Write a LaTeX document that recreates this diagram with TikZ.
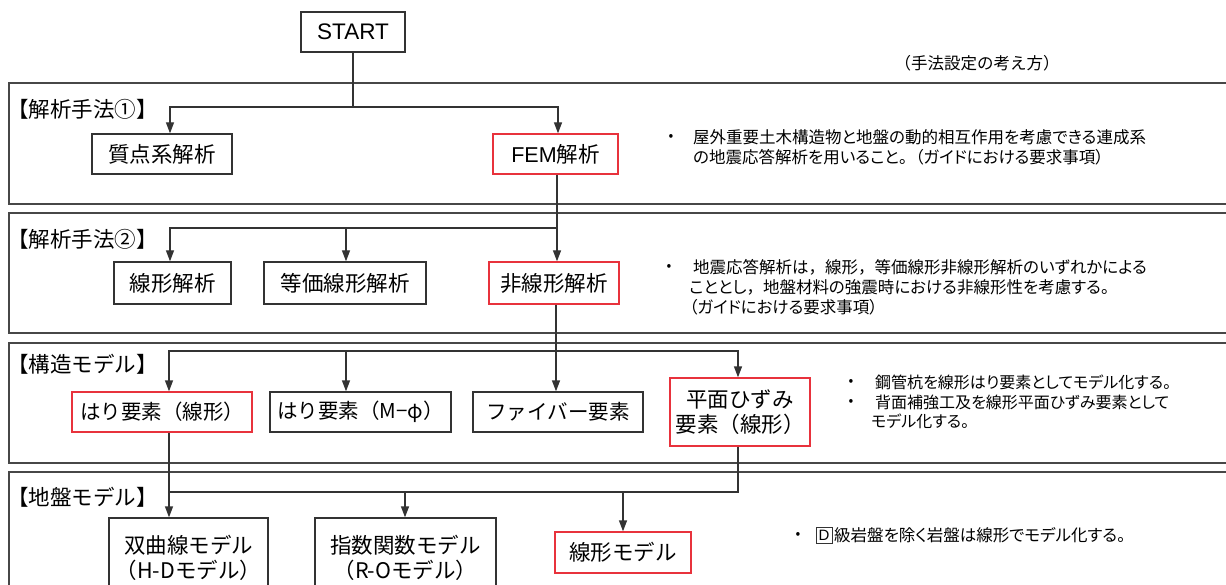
\documentclass[tikz,border=0pt]{standalone}
\usepackage{fontspec}
\setmainfont{Noto Sans CJK JP}
\newfontfamily\jpp[RawFeature=+palt]{Noto Sans CJK JP}
\newfontfamily\jpn{Noto Sans CJK JP}
\newfontfamily\lat{Liberation Sans}
\usetikzlibrary{arrows.meta}
\definecolor{ink}{HTML}{333333}
\definecolor{redb}{HTML}{E8323C}
\begin{document}
\begin{tikzpicture}[x=1pt,y=-1pt,
  ln/.style={draw=ink,line width=1.3pt},
  arr/.style={ln,-{Triangle[length=11pt,width=8pt]}},
  panel/.style={draw=ink!90,line width=1.8pt},
  box/.style={draw=ink,line width=1.3pt,inner sep=0pt,font=\fontsize{21.5}{25}\selectfont,align=center},
  rbox/.style={box,draw=redb},
  hdr/.style={anchor=west,inner sep=0pt,font=\fontsize{21.5}{24}\selectfont},
  side/.style={anchor=west,inner sep=0pt,font=\jpp\fontsize{16.5}{20}\selectfont},
  bul/.style={inner sep=0pt,font=\fontsize{14}{16}\selectfont},
  txt/.style={inner sep=0pt,font=\fontsize{21.5}{25}\selectfont,align=center}]
\useasboundingbox (0,0) rectangle (1226,585);
\clip (0,0) rectangle (1226,585);
% panels
\draw[panel] (9,83) rectangle (1240,204);
\draw[panel] (9,213) rectangle (1240,333);
\draw[panel] (9,343) rectangle (1240,463);
\draw[panel] (9,472) rectangle (1240,610);
% headers
\node[hdr] (h1) at (7,109) {【解析手法①】};
\node[hdr] (h2) at (7,239) {【解析手法②】};
\node[hdr] (h3) at (7,364) {【構造モデル】};
\node[hdr] (h4) at (7,497) {【地盤モデル】};
\node[inner sep=0pt,font=\fontsize{16.5}{20}\selectfont] (cap) at (977,63) {（手法設定の考え方）};
% boxes
\node[box,minimum width=104pt,minimum height=40pt,font=\lat\fontsize{22.5}{25}\selectfont] (start) at (353,32) {START};
\node[box,minimum width=140pt,minimum height=40pt] (shitten) at (162,154) {質点系解析};
\node[rbox,minimum width=125pt,minimum height=40pt] (fem) at (555.5,154) {{\lat FEM}解析};
\node[box,minimum width=117pt,minimum height=42pt] (senkei) at (172.5,283) {線形解析};
\node[box,minimum width=162pt,minimum height=42pt] (toka) at (345,283) {等価線形解析};
\node[rbox,minimum width=130pt,minimum height=42pt] (hisen) at (554,283) {非線形解析};
\node[rbox,minimum width=180pt,minimum height=40pt,font=\fontsize{20.5}{24}\selectfont] (hari1) at (162,412) {はり要素（線形）};
\node[box,minimum width=181pt,minimum height=40pt,font=\fontsize{20.5}{24}\selectfont] (hari2) at (360.5,412) {はり要素（M−φ）};
\node[box,minimum width=170pt,minimum height=40pt,font=\fontsize{20.5}{24}\selectfont] (fiber) at (558,412) {ファイバー要素};
\node[rbox,minimum width=140pt,minimum height=68pt] (heimen) at (740,412) {平面ひずみ\\要素（線形）};
\node[box,minimum width=159pt,minimum height=102pt] (sokyoku) at (188.5,569) {};
\node[txt] (sokyokut) at (188.5,557.5) {双曲線モデル\\（H-Dモデル）};
\node[box,minimum width=181pt,minimum height=102pt] (shisu) at (405.5,569) {};
\node[txt] (shisut) at (405.5,557.5) {指数関数モデル\\（R-Oモデル）};
\node[rbox,minimum width=136pt,minimum height=41pt] (senmodel) at (623,552.5) {線形モデル};
% connectors panel 1
\coordinate (j1) at (353,107);
\coordinate (l1) at (170,107);
\coordinate (r1) at (558,107);
\draw[ln] (start.south) -- (j1);
\draw[arr] (j1) -| (l1 |- shitten.north);
\draw[arr] (j1) -| (r1 |- fem.north);
% panel 2
\coordinate (j2) at (557,228);
\coordinate (l2) at (170,228);
\coordinate (m2) at (346,228);
\draw[arr] (j2 |- fem.south) -- (j2 |- hisen.north);
\draw[arr] (j2) -| (l2 |- senkei.north);
\draw[arr] (m2) -- (m2 |- toka.north);
% panel 3
\coordinate (j3) at (556,351);
\coordinate (l3) at (169,351);
\coordinate (m3) at (346,351);
\coordinate (r3) at (738,351);
\draw[arr] (j3 |- hisen.south) -- (j3 |- fiber.north);
\draw[arr] (j3) -| (l3 |- hari1.north);
\draw[arr] (j3) -| (r3 |- heimen.north);
\draw[arr] (m3) -- (m3 |- hari2.north);
% panel 4
\coordinate (r4) at (738,492);
\coordinate (l4) at (169,492);
\coordinate (m4) at (405,492);
\coordinate (n4) at (623,492);
\draw[arr] (l3 |- hari1.south) -- (l3 |- sokyoku.north);
\draw[ln] (r4 |- heimen.south) -- (r4) -- (l4);
\draw[arr] (m4) -- (m4 |- shisu.north);
\draw[arr] (n4) -- (n4 |- senmodel.north);
% side texts
\node[bul] (b1) at (671,137) {•};
\node[side] (t1a) at (693,137) {屋外重要土木構造物と地盤の動的相互作用を考慮できる連成系};
\node[side] (t1b) at (693,157) {の地震応答解析を用いること。\hspace{8pt}（ガイドにおける要求事項）};
\node[bul] (b2) at (669,267) {•};
\node[side] (t2a) at (693,267) {地震応答解析は{\jpn，}線形{\jpn，}等価線形非線形解析のいずれかによる};
\node[side] (t2b) at (689,287) {こととし{\jpn，}地盤材料の強震時における非線形性を考慮する。};
\node[side] (t2c) at (689,307) {（ガイドにおける要求事項）};
\node[bul] (b3) at (851,382) {•};
\node[side,font=\jpp\fontsize{16}{20}\selectfont] (t3a) at (875,382) {鋼管杭を線形はり要素としてモデル化する。};
\node[bul] (b4) at (851,402) {•};
\node[side,font=\jpp\fontsize{16}{20}\selectfont] (t3b) at (875,402) {背面補強工及を線形平面ひずみ要素として};
\node[side,font=\jpp\fontsize{16}{20}\selectfont] (t3c) at (871,421) {モデル化する。};
\node[bul] (b5) at (798,535) {•};
\node[draw=ink,line width=1pt,inner sep=1pt,minimum width=16pt,minimum height=16pt,font=\lat\fontsize{15}{17}\selectfont] (dbox) at (824,535) {D};
\node[side] (t4) at (834,535) {級岩盤を除く岩盤は線形でモデル化する。};
\end{tikzpicture}
\end{document}
